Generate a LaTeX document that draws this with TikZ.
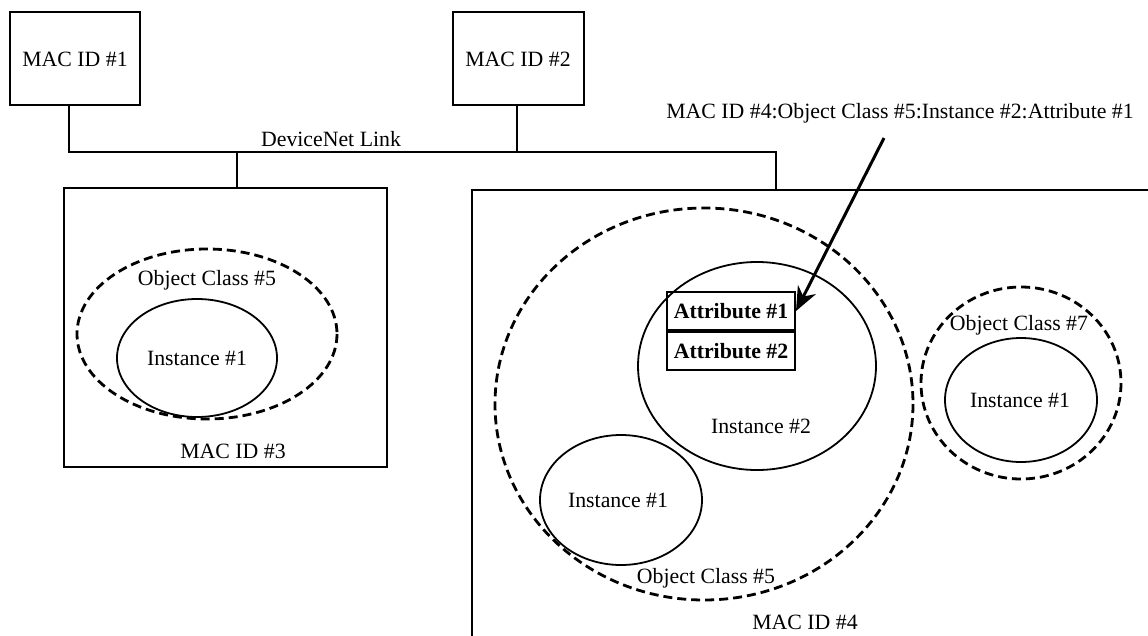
\documentclass[tikz,border=0pt]{standalone}
\usepackage{fontspec}
\setmainfont{Liberation Serif}
\usetikzlibrary{arrows.meta}
\begin{document}
\begin{tikzpicture}[x=1pt,y=-1pt,
  txt/.style={inner sep=0pt, font=\fontsize{21.8}{25}\selectfont},
  box/.style={draw, line width=2pt},
  wire/.style={line width=2pt},
  dashring/.style={draw, line width=2.8pt, dash pattern=on 9pt off 5pt},
  ring/.style={draw, line width=1.8pt},
  attrbox/.style={draw, line width=2pt, minimum width=128pt, minimum height=38pt, inner sep=0pt, font=\bfseries\fontsize{21.8}{25}\selectfont}]
\useasboundingbox (0,0) rectangle (1148,635);
% top devices
\draw[box] (10,12) rectangle (140,105);
\node[txt] (mac1) at (75,59) {MAC ID \#1};
\draw[box] (453,12) rectangle (584,105);
\node[txt] (mac2) at (518,59) {MAC ID \#2};
% bus
\coordinate (b1) at (69,152);
\coordinate (b2) at (776,152);
\draw[wire] (69,105) -- (b1) -- (b2) -- (776,190);
\draw[wire] (517,105) -- (517,152);
\draw[wire] (237,152) -- (237,188);
\node[txt] (dnl) at (331,139) {DeviceNet Link};
% MAC ID #3
\draw[box] (64,188) rectangle (387,467);
\node[txt] (mac3) at (233,451) {MAC ID \#3};
\draw[dashring] (207,334) ellipse [x radius=130, y radius=85];
\node[txt] (oc5a) at (207,280) {Object Class \#5};
\draw[ring] (197,358) ellipse [x radius=80, y radius=59];
\node[txt] (in1a) at (197,358) {Instance \#1};
% MAC ID #4
\draw[box] (472,640) -- (472,190) -- (1152,190);
\node[txt] (mac4) at (805,622) {MAC ID \#4};
\draw[dashring] (704,404) ellipse [x radius=209, y radius=196];
\node[txt] (oc5b) at (706,578) {Object Class \#5};
\draw[ring] (757,366) ellipse [x radius=119, y radius=104];
\node[txt] (in2) at (761,426) {Instance \#2};
\node[attrbox] (at1) at (731,311) {Attribute \#1};
\node[attrbox, anchor=north] (at2) at (at1.south) {Attribute \#2};
\draw[ring] (621,500) ellipse [x radius=81, y radius=65];
\node[txt] (in1b) at (618,500) {Instance \#1};
\draw[dashring] (1021,383) ellipse [x radius=100, y radius=96];
\node[txt] (oc7) at (1019,325) {Object Class \#7};
\draw[ring] (1021,400) ellipse [x radius=76, y radius=62];
\node[txt] (in1c) at (1020,400) {Instance \#1};
% path label
\node[txt] (lbl) at (900,113) {MAC ID \#4:Object Class \#5:Instance \#2:Attribute \#1};
\coordinate (arrs) at (884,138);
\draw[line width=3pt, -{Stealth[length=24pt, width=20pt]}] (arrs) -- (at1.east);
\end{tikzpicture}
\end{document}
